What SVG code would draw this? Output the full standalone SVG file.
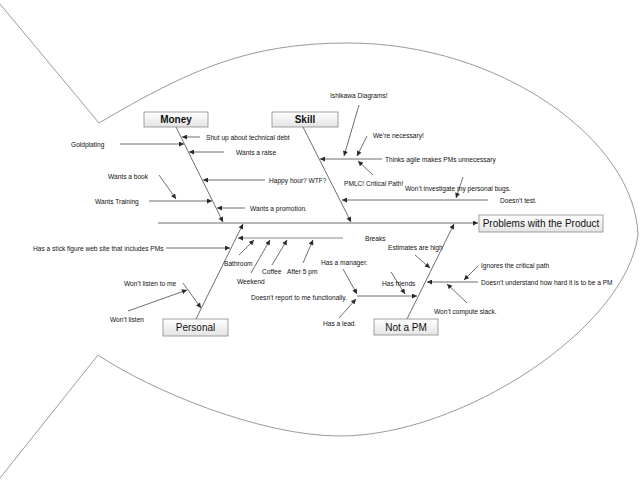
<svg xmlns="http://www.w3.org/2000/svg" width="640" height="480" viewBox="0 0 640 480">
<style>
.outline{fill:none;stroke:#9a9a9a;stroke-width:1}
.c{fill:none;stroke:#4a4a4a;stroke-width:0.8;marker-end:url(#ah)}
.brk{fill:none;stroke:#c4c4c4;stroke-width:2;marker-end:url(#ah)}
.box{fill:url(#bg);stroke:#8a8a8a;stroke-width:0.8}
.t{font-family:"Liberation Sans",Arial,sans-serif;font-size:6.6px;fill:#111}
.h{font-family:"Liberation Sans",Arial,sans-serif;font-size:10px;fill:#111;text-anchor:middle}
.hb{font-weight:bold}
</style>
<defs>
<linearGradient id="bg" x1="0" y1="0" x2="0" y2="1">
<stop offset="0" stop-color="#ffffff"/>
<stop offset="1" stop-color="#e4e4e4"/>
</linearGradient>
<marker id="ah" viewBox="0 0 10 10" refX="10" refY="5" markerUnits="userSpaceOnUse" markerWidth="6" markerHeight="5" orient="auto">
<path d="M0,0 L10,5 L0,10 z" fill="#2a2a2a"/>
</marker>
</defs>
<rect width="640" height="480" fill="#ffffff"/>
<g id="fish">
<path class="outline" d="M0 4 L99 123 C189 70 248 43 348 43 C500 43 635 140 638 235 C625 330 460 436 340 436 C260 436 150 390 98 355 L0 478"/>
</g>
<g id="connectors">
<path class="c" d="M158 223 H478"/>
<path class="c" d="M176 127 L223 222"/>
<path class="c" d="M303 127 L351 222"/>
<path class="c" d="M196 319 L243 224"/>
<path class="c" d="M407 319 L454 224"/>
<path class="c" d="M200 137 L182 137"/>
<path class="c" d="M120 144 L184 144"/>
<path class="c" d="M224 152 L189 152"/>
<path class="c" d="M265 180 L203 180"/>
<path class="c" d="M159 175 L176 199"/>
<path class="c" d="M149 201 L212 201"/>
<path class="c" d="M245 208 L217 208"/>
<path class="c" d="M382 159 L320 159"/>
<path class="c" d="M359 105 L344 156"/>
<path class="c" d="M367 136 L357 156"/>
<path class="c" d="M373 175 L358 161"/>
<path class="c" d="M488 200 L342 200"/>
<path class="c" d="M463 177 L456 198"/>
<path class="c" d="M166 248 L230 248"/>
<path class="c" d="M183 283 L201 308"/>
<path class="c" d="M128 311 L187 290"/>
<path class="brk" d="M343 238 L238 238"/>
<path class="c" d="M239 255 L254 240"/>
<path class="c" d="M251 273 L270 240"/>
<path class="c" d="M272 265 L287 240"/>
<path class="c" d="M303 263 L313 240"/>
<path class="c" d="M415 255 L430 268"/>
<path class="c" d="M478 282 L427 282"/>
<path class="c" d="M478 266 L464 280"/>
<path class="c" d="M467 303 L447 284"/>
<path class="c" d="M357 296 L417 296"/>
<path class="c" d="M391 272 L405 294"/>
<path class="c" d="M343 269 L357 294"/>
<path class="c" d="M339 318 L356 299"/>
</g>
<g id="problems"><rect class="box" x="479" y="215" width="124" height="17"/><text class="h" x="541" y="227">Problems with the Product</text></g>
<g id="money"><rect class="box" x="144" y="112" width="64" height="15"/><text class="h hb" x="176" y="123">Money</text></g>
<g id="skill"><rect class="box" x="272" y="112" width="66" height="15"/><text class="h hb" x="305" y="123">Skill</text></g>
<g id="personal"><rect class="box" x="163" y="319" width="65" height="17"/><text class="h" x="195.5" y="331">Personal</text></g>
<g id="notapm"><rect class="box" x="374" y="319" width="64" height="16"/><text class="h" x="406" y="331">Not a PM</text></g>
<g id="c-shutup"><text class="t" x="206" y="139.5">Shut up about technical debt</text></g>
<g id="c-goldplating"><text class="t" x="71" y="146.5">Goldplating</text></g>
<g id="c-raise"><text class="t" x="236" y="154.5">Wants a raise</text></g>
<g id="c-book"><text class="t" x="108" y="178.5">Wants a book</text></g>
<g id="c-training"><text class="t" x="95" y="203.5">Wants Training</text></g>
<g id="c-happy"><text class="t" x="269" y="182.5">Happy hour? WTF?</text></g>
<g id="c-promotion"><text class="t" x="250" y="210.5">Wants a promotion.</text></g>
<g id="c-ishikawa"><text class="t" x="330" y="97.5">Ishikawa Diagrams!</text></g>
<g id="c-necessary"><text class="t" x="373" y="137.5">We’re necessary!</text></g>
<g id="c-agile"><text class="t" x="385" y="161.5">Thinks agile makes PMs unnecessary</text></g>
<g id="c-pmlc"><text class="t" x="344" y="185.5">PMLC! Critical Path!</text></g>
<g id="c-bugs"><text class="t" x="405" y="190.5">Won’t investigate my personal bugs.</text></g>
<g id="c-test"><text class="t" x="500" y="202.5">Doesn’t test.</text></g>
<g id="c-stick"><text class="t" x="33" y="250.5">Has a stick figure web site that includes PMs</text></g>
<g id="c-listenme"><text class="t" x="124" y="285.5">Won’t listen to me</text></g>
<g id="c-listen"><text class="t" x="110" y="321.5">Won’t listen</text></g>
<g id="c-breaks"><text class="t" x="365" y="240.5">Breaks</text></g>
<g id="c-bathroom"><text class="t" x="224" y="265.5">Bathroom</text></g>
<g id="c-weekend"><text class="t" x="237" y="283.5">Weekend</text></g>
<g id="c-coffee"><text class="t" x="262" y="273.5">Coffee</text></g>
<g id="c-after5"><text class="t" x="287" y="273.5">After 5 pm</text></g>
<g id="c-estimates"><text class="t" x="388" y="249.5">Estimates are high</text></g>
<g id="c-ignores"><text class="t" x="481" y="267.5">Ignores the critical path</text></g>
<g id="c-understand"><text class="t" x="481" y="284.5">Doesn’t understand how hard it is to be a PM</text></g>
<g id="c-slack"><text class="t" x="434" y="313.5">Won’t compute slack.</text></g>
<g id="c-friends"><text class="t" x="382" y="285.5">Has friends</text></g>
<g id="c-manager"><text class="t" x="321" y="264.5">Has a manager.</text></g>
<g id="c-report"><text class="t" x="251" y="299.5">Doesn’t report to me functionally.</text></g>
<g id="c-lead"><text class="t" x="323" y="325.5">Has a lead.</text></g>
</svg>
